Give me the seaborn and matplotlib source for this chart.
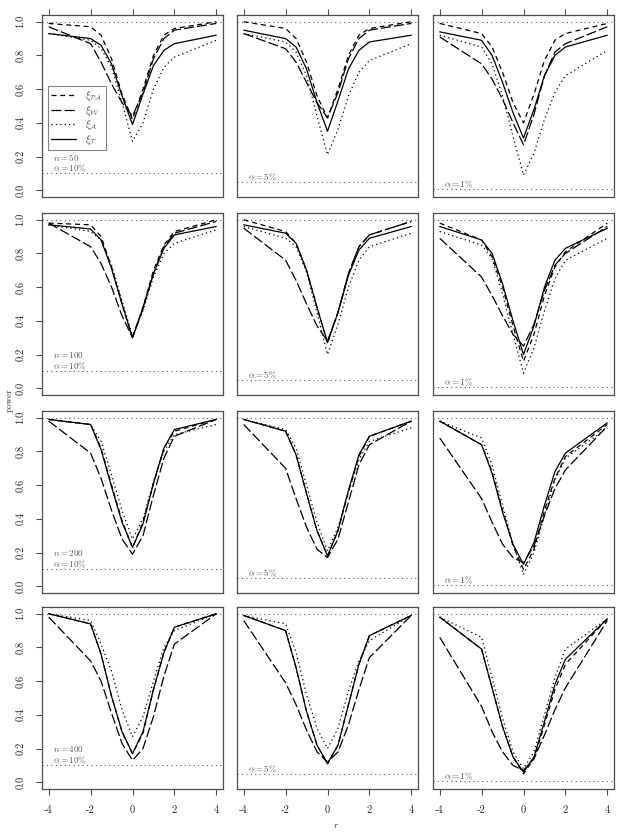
import numpy as np
import pandas as pd
import matplotlib
matplotlib.use("Agg")
import matplotlib.pyplot as plt
import seaborn as sns
from matplotlib.lines import Line2D

# --- data: simulated power curves ---
R_GRID = [-4, -2, -1.5, -1, -0.5, 0, 0.5, 1, 1.5, 2, 4]
SAMPLE_SIZES = [50, 100, 200, 400]
ALPHAS = [0.10, 0.05, 0.01]
ALPHA_LABELS = [r"$\alpha = 10\%$", r"$\alpha = 5\%$", r"$\alpha = 1\%$"]
TESTS = ["PA", "W", "A", "T"]
TEST_LABELS = [r"$\xi_{\mathcal{PA}}$", r"$\xi_{\mathcal{W}}$",
               r"$\xi_{\mathcal{A}}$", r"$\xi_{\mathcal{T}}$"]

# each array: rows = alpha 10%, 5%, 1%
PA_50 = [[0.99, 0.97, 0.92, 0.78, 0.57, 0.42, 0.60, 0.80, 0.92, 0.96, 1.00],
         [1.00, 0.96, 0.90, 0.76, 0.56, 0.43, 0.60, 0.80, 0.92, 0.96, 1.00],
         [0.99, 0.93, 0.85, 0.70, 0.52, 0.40, 0.57, 0.77, 0.89, 0.93, 0.99]]
W_50 = [[0.97, 0.87, 0.76, 0.63, 0.52, 0.44, 0.58, 0.78, 0.90, 0.95, 0.99],
        [0.93, 0.84, 0.76, 0.64, 0.52, 0.43, 0.58, 0.78, 0.90, 0.95, 0.99],
        [0.91, 0.75, 0.66, 0.54, 0.40, 0.27, 0.45, 0.68, 0.82, 0.87, 0.97]]
A_50 = [[0.93, 0.89, 0.84, 0.73, 0.52, 0.29, 0.40, 0.60, 0.73, 0.79, 0.89],
        [0.93, 0.88, 0.82, 0.68, 0.44, 0.21, 0.36, 0.56, 0.70, 0.77, 0.87],
        [0.92, 0.85, 0.75, 0.56, 0.32, 0.09, 0.22, 0.42, 0.58, 0.68, 0.83]]
T_50 = [[0.93, 0.90, 0.86, 0.75, 0.56, 0.39, 0.57, 0.74, 0.83, 0.87, 0.92],
        [0.95, 0.90, 0.85, 0.72, 0.52, 0.35, 0.53, 0.72, 0.83, 0.88, 0.92],
        [0.94, 0.89, 0.80, 0.64, 0.46, 0.31, 0.48, 0.68, 0.80, 0.85, 0.92]]

PA_100 = [[0.98, 0.97, 0.90, 0.72, 0.50, 0.30, 0.48, 0.70, 0.85, 0.93, 1.00],
          [1.00, 0.93, 0.86, 0.70, 0.48, 0.27, 0.45, 0.68, 0.84, 0.91, 0.99],
          [0.98, 0.88, 0.78, 0.60, 0.37, 0.16, 0.32, 0.55, 0.72, 0.81, 0.98]]
W_100 = [[0.98, 0.84, 0.74, 0.60, 0.43, 0.30, 0.47, 0.68, 0.84, 0.92, 0.99],
         [0.95, 0.76, 0.64, 0.50, 0.37, 0.28, 0.45, 0.68, 0.84, 0.91, 0.99],
         [0.89, 0.66, 0.55, 0.43, 0.32, 0.25, 0.38, 0.58, 0.73, 0.80, 0.96]]
A_100 = [[0.97, 0.93, 0.88, 0.73, 0.52, 0.31, 0.46, 0.66, 0.80, 0.86, 0.94],
         [0.96, 0.89, 0.84, 0.69, 0.45, 0.20, 0.38, 0.60, 0.76, 0.84, 0.92],
         [0.93, 0.85, 0.77, 0.56, 0.32, 0.09, 0.24, 0.46, 0.65, 0.76, 0.89]]
T_100 = [[0.97, 0.945, 0.88, 0.71, 0.50, 0.30, 0.48, 0.68, 0.83, 0.91, 0.96],
         [0.97, 0.92, 0.86, 0.70, 0.48, 0.27, 0.45, 0.67, 0.82, 0.89, 0.96],
         [0.96, 0.88, 0.80, 0.62, 0.40, 0.20, 0.37, 0.60, 0.76, 0.83, 0.95]]

PA_200 = [[0.99, 0.96, 0.82, 0.60, 0.39, 0.23, 0.38, 0.61, 0.82, 0.92, 0.99],
          [0.99, 0.92, 0.78, 0.55, 0.33, 0.18, 0.33, 0.56, 0.77, 0.89, 0.98],
          [0.98, 0.84, 0.68, 0.45, 0.24, 0.10, 0.22, 0.45, 0.64, 0.77, 0.96]]
W_200 = [[0.98, 0.79, 0.64, 0.45, 0.28, 0.19, 0.30, 0.54, 0.76, 0.89, 0.99],
         [0.96, 0.70, 0.52, 0.35, 0.22, 0.17, 0.28, 0.50, 0.72, 0.84, 0.98],
         [0.88, 0.52, 0.38, 0.25, 0.17, 0.14, 0.24, 0.42, 0.58, 0.69, 0.95]]
A_200 = [[0.99, 0.96, 0.86, 0.66, 0.45, 0.28, 0.40, 0.62, 0.80, 0.90, 0.96],
         [0.99, 0.93, 0.82, 0.60, 0.38, 0.21, 0.35, 0.56, 0.75, 0.86, 0.94],
         [0.98, 0.88, 0.72, 0.48, 0.25, 0.07, 0.20, 0.42, 0.63, 0.76, 0.94]]
T_200 = [[0.99, 0.96, 0.81, 0.59, 0.38, 0.23, 0.37, 0.61, 0.82, 0.93, 0.99],
         [0.99, 0.92, 0.78, 0.55, 0.33, 0.18, 0.33, 0.57, 0.78, 0.89, 0.98],
         [0.98, 0.84, 0.67, 0.44, 0.25, 0.13, 0.26, 0.48, 0.68, 0.79, 0.97]]

PA_400 = [[1.00, 0.94, 0.76, 0.51, 0.30, 0.17, 0.29, 0.55, 0.77, 0.92, 1.00],
          [0.99, 0.90, 0.68, 0.42, 0.22, 0.11, 0.22, 0.46, 0.70, 0.87, 0.99],
          [0.98, 0.79, 0.56, 0.33, 0.15, 0.05, 0.14, 0.34, 0.55, 0.70, 0.97]]
W_400 = [[0.98, 0.72, 0.60, 0.41, 0.23, 0.13, 0.20, 0.39, 0.63, 0.82, 1.00],
         [0.96, 0.59, 0.46, 0.31, 0.18, 0.12, 0.18, 0.34, 0.55, 0.74, 0.99],
         [0.86, 0.45, 0.30, 0.18, 0.10, 0.07, 0.14, 0.28, 0.43, 0.56, 0.96]]
A_400 = [[1.00, 0.96, 0.82, 0.66, 0.43, 0.27, 0.39, 0.60, 0.80, 0.90, 1.00],
         [0.99, 0.94, 0.77, 0.52, 0.32, 0.20, 0.32, 0.54, 0.72, 0.84, 0.99],
         [0.98, 0.86, 0.62, 0.38, 0.18, 0.08, 0.18, 0.40, 0.62, 0.79, 0.97]]
T_400 = [[1.00, 0.94, 0.76, 0.51, 0.30, 0.17, 0.30, 0.55, 0.77, 0.92, 1.00],
         [0.99, 0.90, 0.68, 0.42, 0.22, 0.11, 0.22, 0.46, 0.70, 0.87, 0.99],
         [0.98, 0.79, 0.56, 0.33, 0.15, 0.06, 0.15, 0.36, 0.58, 0.73, 0.97]]

POWER = {
    50: {"PA": PA_50, "W": W_50, "A": A_50, "T": T_50},
    100: {"PA": PA_100, "W": W_100, "A": A_100, "T": T_100},
    200: {"PA": PA_200, "W": W_200, "A": A_200, "T": T_200},
    400: {"PA": PA_400, "W": W_400, "A": A_400, "T": T_400},
}

DASHES = {"PA": (4, 3), "W": (8, 2.5), "A": (1, 2.5), "T": ""}

sns.set_theme(style="ticks")
plt.rcParams["font.family"] = "serif"
plt.rcParams["font.serif"] = ["cmr10", "DejaVu Serif"]
plt.rcParams["mathtext.fontset"] = "cm"
plt.rcParams["axes.unicode_minus"] = False
plt.rcParams["axes.formatter.use_mathtext"] = True

W_PX, H_PX = 623, 832
fig = plt.figure(figsize=(W_PX / 100, H_PX / 100), dpi=100)

col_left = [42, 237, 433]
row_top = [15, 213, 411, 607]
ax_w, ax_h = 181, 182
edge = "0.3"

for i, n in enumerate(SAMPLE_SIZES):
    for j, alpha in enumerate(ALPHAS):
        rect = [col_left[j] / W_PX, (H_PX - row_top[i] - ax_h) / H_PX,
                ax_w / W_PX, ax_h / H_PX]
        ax = fig.add_axes(rect)

        rows = []
        for t in TESTS:
            for r, p in zip(R_GRID, POWER[n][t][j]):
                rows.append({"r": r, "power": p, "test": t})
        df = pd.DataFrame(rows)

        ax.axhline(1.0, color="0.35", lw=0.8, ls=(0, (1, 3)), zorder=1)
        ax.axhline(alpha, color="0.35", lw=0.8, ls=(0, (1, 3)), zorder=1)

        sns.lineplot(data=df, x="r", y="power", style="test", style_order=TESTS,
                     dashes=DASHES, color="black", linewidth=0.9, sort=False,
                     errorbar=None, legend=False, ax=ax, zorder=3)

        ax.set_xlim(-4.32, 4.32)
        ax.set_ylim(-0.04, 1.04)
        ax.set_xlabel("")
        ax.set_ylabel("")
        for sp in ax.spines.values():
            sp.set_visible(True)
            sp.set_color(edge)
            sp.set_linewidth(0.9)

        ax.set_xticks([-4, -2, 0, 2, 4])
        ax.set_xticklabels(["-4", "-2", "0", "2", "4"], fontsize=7.5)
        ax.set_yticks([0, 0.2, 0.4, 0.6, 0.8, 1.0])
        ax.set_yticklabels(["0.0", "0.2", "0.4", "0.6", "0.8", "1.0"],
                           fontsize=7.5, rotation=90, va="center")
        ax.tick_params(axis="both", direction="out", length=4, width=0.8,
                       color=edge, pad=8, labelcolor="0.15")
        ax.tick_params(axis="x", bottom=(i == 3), labelbottom=(i == 3),
                       top=(i == 0), labeltop=False)
        ax.tick_params(axis="y", left=(j == 0), labelleft=(j == 0))

        txt_kw = dict(fontsize=6.5, color="0.35", ha="left", va="center")
        ax.text(-3.8, alpha + 0.027, ALPHA_LABELS[j], **txt_kw)
        if j == 0:
            ax.text(-3.8, 0.195, rf"$n = {n}$", **txt_kw)

        if i == 0 and j == 0:
            handles = []
            for t in TESTS:
                if DASHES[t] == "":
                    handles.append(Line2D([], [], color="black", lw=0.9, ls="-"))
                else:
                    handles.append(Line2D([], [], color="black", lw=0.9,
                                          ls=(0, DASHES[t])))
            leg = ax.legend(handles, TEST_LABELS, loc="upper left",
                            bbox_to_anchor=(-4.05, 0.62),
                            bbox_transform=ax.transData, frameon=True,
                            fancybox=False, edgecolor="0.4", fontsize=7.5,
                            handlelength=2.4, borderpad=0.35, labelspacing=0.1,
                            handletextpad=0.8, borderaxespad=0)
            leg.get_frame().set_linewidth(0.8)
            for txt in leg.get_texts():
                txt.set_color("0.35")

fig.text(9 / W_PX, 1 - 400 / H_PX, "power", rotation=90, fontsize=6.5,
         ha="center", va="center", color="0.2")
fig.text(336 / W_PX, 1 - 826 / H_PX, r"$r$", fontsize=7,
         ha="center", va="center", color="0.2")

fig.savefig("out.png", dpi=100)
